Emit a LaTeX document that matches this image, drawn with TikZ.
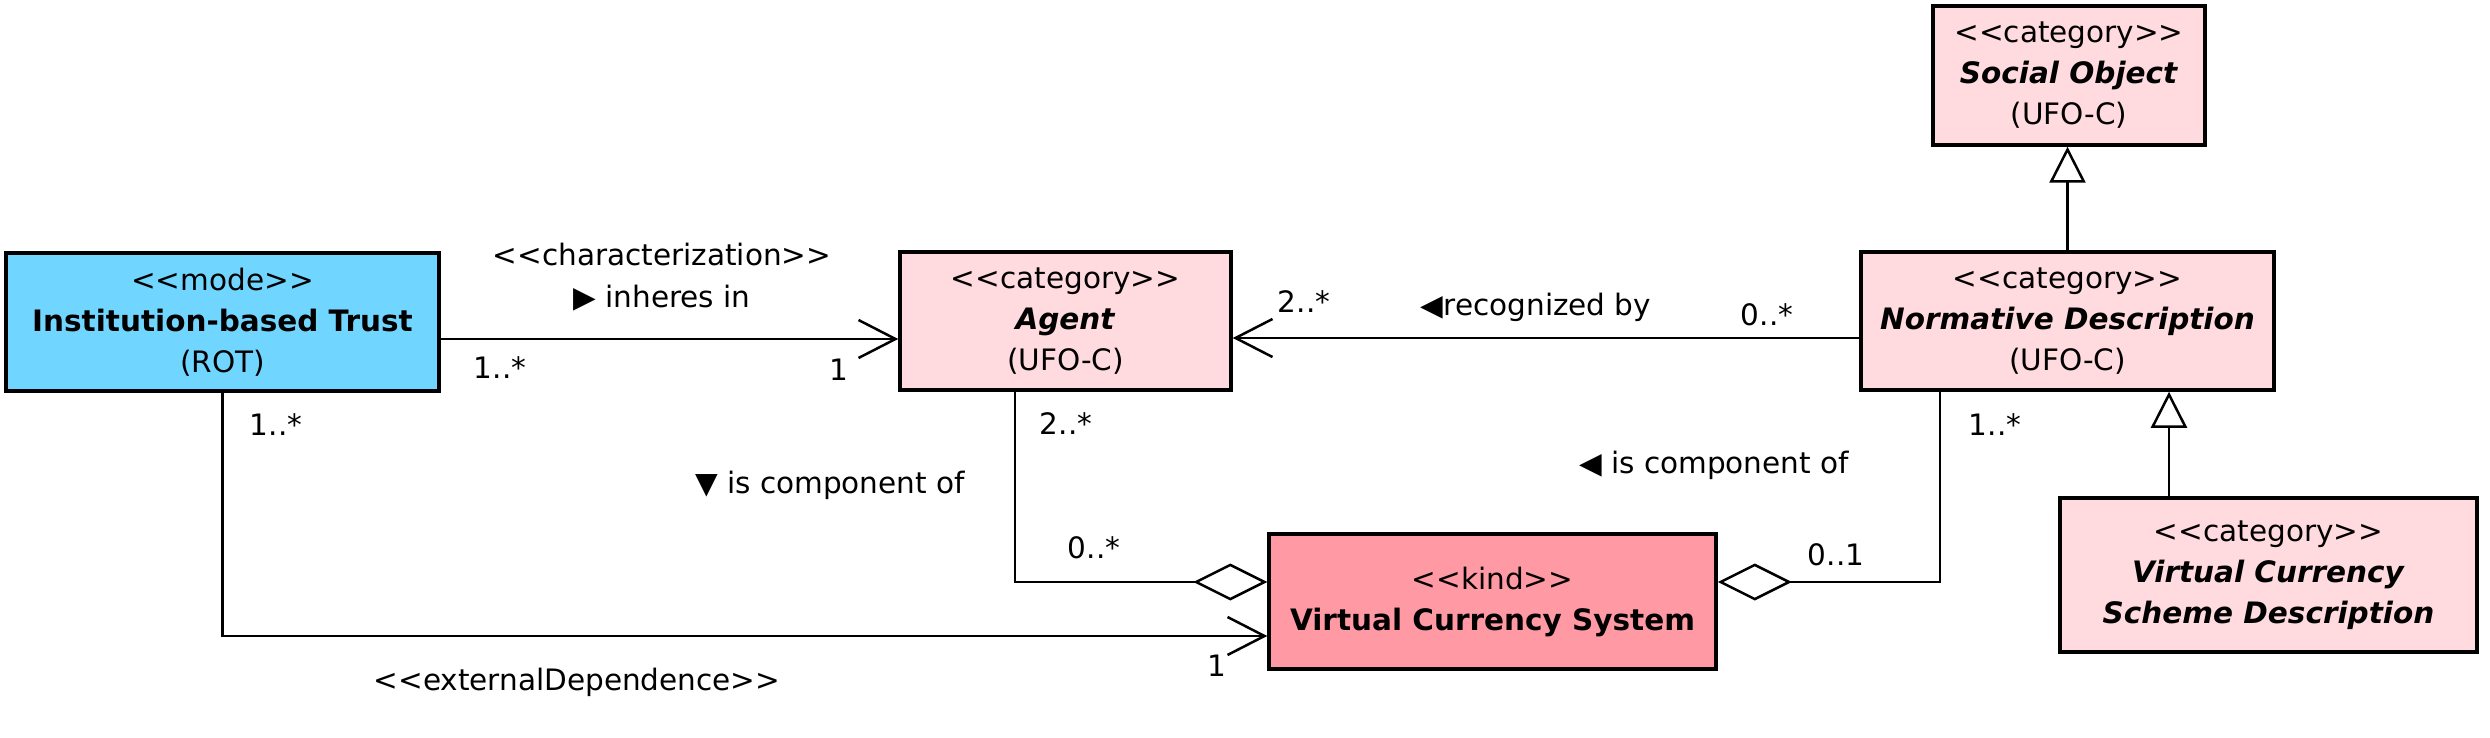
\documentclass[tikz,border=0pt]{standalone}
\usepackage{fontspec}
\setmainfont{DejaVu Sans}
\usetikzlibrary{arrows.meta}
\definecolor{modeblue}{RGB}{112,214,255}
\definecolor{catpink}{RGB}{255,218,223}
\definecolor{kindpink}{RGB}{255,153,163}
\tikzset{
  umlbox/.style={draw=black, line width=3.5pt, align=center, inner sep=0pt,
    font=\fontsize{29.5}{41}\selectfont},
  lbl/.style={inner sep=0pt, font=\fontsize{29.5}{41}\selectfont},
  conn/.style={line width=2.5pt, draw=black},
  openarrow/.style={-{Straight Barb[length=37pt,width=38pt]}},
  aggr/.style={-{Diamond[fill=white,length=74pt,width=37pt]}},
  gen/.style={-{Triangle[fill=white,length=36pt,width=36pt]}},
}
\newcommand{\stereo}[1]{{<}{<}#1{>}{>}}
\begin{document}
\begin{tikzpicture}[x=1pt,y=-1pt]
\useasboundingbox (0,0) rectangle (2490,738);

% classes
\node[umlbox, fill=modeblue, minimum width=433pt, minimum height=138pt] (ibt) at (222.5,322)
  {\stereo{mode}\\\textbf{Institution-based Trust}\\(ROT)};
\node[umlbox, fill=catpink, minimum width=331pt, minimum height=138pt] (agent) at (1065.5,321)
  {\stereo{category}\\\textbf{\itshape Agent}\\(UFO-C)};
\node[umlbox, fill=catpink, minimum width=413pt, minimum height=138pt] (norm) at (2067.5,321)
  {\stereo{category}\\\textbf{\itshape Normative Description}\\(UFO-C)};
\node[umlbox, fill=catpink, minimum width=272pt, minimum height=139pt] (social) at (2069,75.5)
  {\stereo{category}\\\textbf{\itshape Social Object}\\(UFO-C)};
\node[umlbox, fill=catpink, minimum width=417pt, minimum height=154pt] (vcsd) at (2268.5,575)
  {\stereo{category}\\\textbf{\itshape Virtual Currency}\\\textbf{\itshape Scheme Description}};
\node[umlbox, fill=kindpink, minimum width=447pt, minimum height=135pt] (vcs) at (1492.5,601.5)
  {\stereo{kind}\\\textbf{Virtual Currency System}};

% connectors
\draw[conn, openarrow] ([yshift=-17pt]ibt.east) -- ([yshift=-17pt]ibt.east -| agent.west);
\draw[conn, openarrow] ([yshift=-17pt]norm.west) -- ([yshift=-17pt]norm.west -| agent.east);
\draw[conn, gen] (norm.north) -- (norm.north |- social.south);
\draw[conn, gen] ([xshift=-99.5pt]vcsd.north) -- ([xshift=-99.5pt]vcsd.north |- norm.south);
\draw[conn, aggr] ([xshift=-50.5pt]agent.south) |- ([yshift=19.5pt]vcs.west);
\draw[conn, aggr] ([xshift=-127.5pt]norm.south) |- ([yshift=19.5pt]vcs.east);
\draw[conn, openarrow] (ibt.south) |- ([yshift=-34.5pt]vcs.west);

% labels
\node[lbl] (l1) at (662,255) {\stereo{characterization}};
\node[lbl] (l2) at (662,298) {▶ inheres in};
\node[lbl] (l3) at (500,368) {1..*};
\node[lbl] (l4) at (839,370) {1};
\node[lbl] (l5) at (1304,302) {2..*};
\node[lbl] (l6) at (1536,307) {◀recognized by};
\node[lbl] (l7) at (1767,315) {0..*};
\node[lbl] (l8) at (1066,424) {2..*};
\node[lbl] (l9) at (1094,548) {0..*};
\node[lbl] (l10) at (830,485) {▼ is component of};
\node[lbl] (l11) at (1714,465) {◀ is component of};
\node[lbl] (l12) at (1995,425) {1..*};
\node[lbl] (l13) at (1836,555) {0..1};
\node[lbl] (l14) at (276,425) {1..*};
\node[lbl] (l15) at (1217,666) {1};
\node[lbl] (l16) at (577,682) {\stereo{externalDependence}};
\end{tikzpicture}
\end{document}
